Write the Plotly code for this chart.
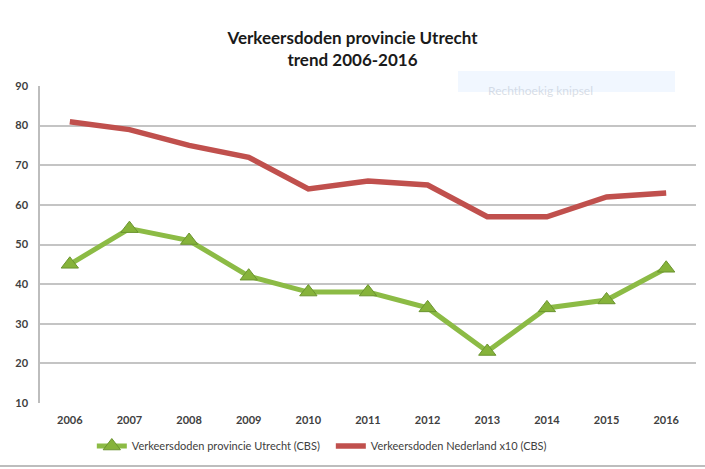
import plotly.graph_objects as go

years = [2006, 2007, 2008, 2009, 2010, 2011, 2012, 2013, 2014, 2015, 2016]
utrecht = [45, 54, 51, 42, 38, 38, 34, 23, 34, 36, 44]
nederland_x10 = [81, 79, 75, 72, 64, 66, 65, 57, 57, 62, 63]
y_ticks = [10, 20, 30, 40, 50, 60, 70, 80, 90]

FONT = "Lato, 'Open Sans', sans-serif"

fig = go.Figure()
fig.add_trace(go.Scatter(
    x=years, y=utrecht, mode="lines+markers",
    name="Verkeersdoden provincie Utrecht (CBS)",
    line=dict(color="#8cbb45", width=5),
    marker=dict(symbol="triangle-up", size=15, color="#86b33a",
                line=dict(color="#6b9430", width=1)),
))
fig.add_trace(go.Scatter(
    x=years, y=nederland_x10, mode="lines",
    name="Verkeersdoden Nederland x10 (CBS)",
    line=dict(color="#c0504d", width=5.5),
))

fig.update_layout(
    width=705, height=469,
    margin=dict(l=40, r=9, t=86, b=66),
    paper_bgcolor="white", plot_bgcolor="white",
    font=dict(family=FONT, color="#404040"),
    title=dict(text="<b>Verkeersdoden provincie Utrecht<br>trend 2006-2016</b>",
               x=0.5, xanchor="center", y=0.907, yanchor="top",
               font=dict(size=17, color="#1a1a1a", family=FONT)),
    showlegend=True,
    legend=dict(orientation="h", x=0.079, xanchor="left", y=-0.09, yanchor="top",
                font=dict(size=11, color="#404040"), entrywidth=194,
                itemwidth=30, bgcolor="rgba(0,0,0,0)"),
    xaxis=dict(range=[2005.5, 2016.5], tickmode="array", tickvals=years,
               ticktext=[f"<b>{y}</b>" for y in years], showgrid=False,
               showline=False, zeroline=False, ticks="", ticklabelstandoff=9,
               tickfont=dict(size=11, color="#404040")),
    yaxis=dict(range=[10, 90], tickmode="array", tickvals=y_ticks,
               ticktext=[f"<b>{v}</b>" for v in y_ticks],
               showgrid=True, gridcolor="#c4c4c4", gridwidth=1.5,
               showline=True, linecolor="#bdbdbd", linewidth=1.5,
               zeroline=False, ticks="", ticklabelstandoff=8,
               tickfont=dict(size=11, color="#404040")),
)

# faint screenshot artefact box
fig.add_shape(type="rect", xref="paper", yref="paper",
              x0=(458-40)/656, x1=(675-40)/656, y0=(403-92)/317, y1=(403-71)/317,
              fillcolor="rgba(225,238,255,0.45)", line=dict(width=0), layer="below")
fig.add_annotation(xref="paper", yref="paper", x=(486-40)/656, y=(403-81)/317,
                   text="Rechthoekig knipsel", showarrow=False, xanchor="left",
                   font=dict(size=12, color="rgba(180,190,205,0.5)", family=FONT))
# bottom border line
fig.add_shape(type="line", xref="paper", yref="paper",
              x0=-40/656, x1=1.02, y0=-(466-403)/317, y1=-(466-403)/317,
              line=dict(color="#bdbdbd", width=2))

fig.write_html("out.html", config={"displayModeBar": False},
               post_script="document.body.style.margin='0';")
